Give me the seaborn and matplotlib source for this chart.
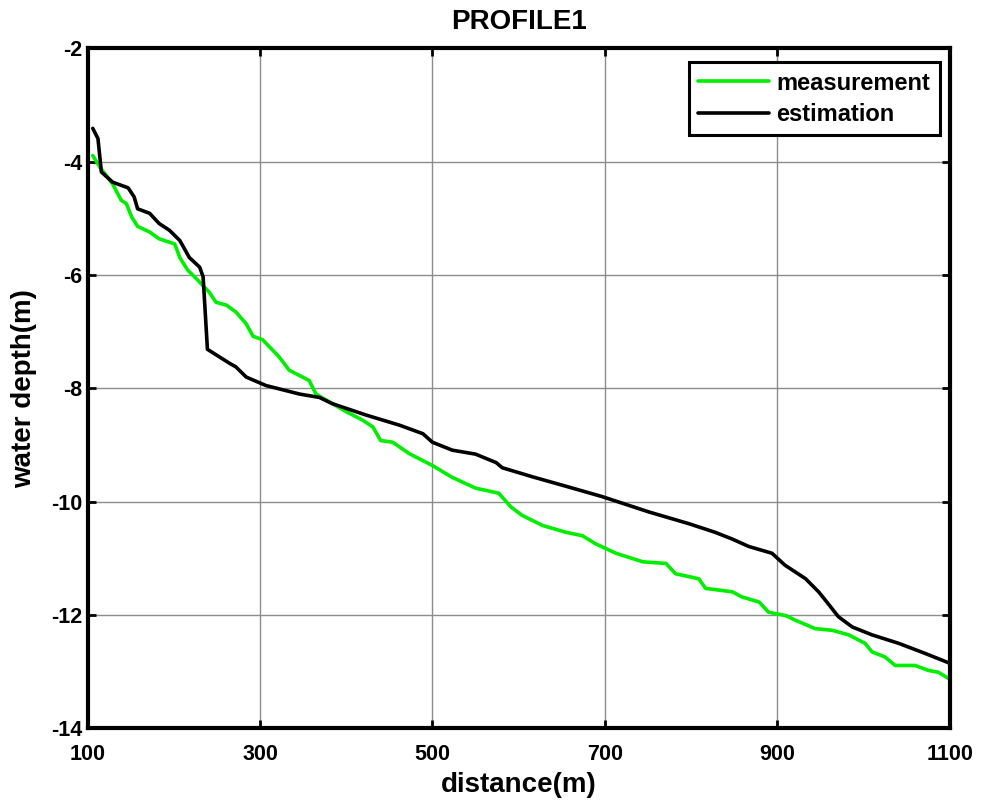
import matplotlib
matplotlib.use("Agg")
import matplotlib.pyplot as plt
import seaborn as sns
import pandas as pd

# measured profile (green)
meas_x = [106, 114, 129, 139, 145, 151, 158, 172, 183, 201, 207, 216, 226, 241, 249, 261,
          272, 284, 292, 303, 322, 334, 357, 365, 384, 400, 419, 431, 440, 454, 473, 500,
          523, 550, 577, 591, 604, 628, 655, 674, 689, 713, 744, 771, 782, 809, 817, 848,
          859, 879, 890, 910, 921, 944, 964, 983, 1002, 1010, 1025, 1037, 1060, 1076, 1087, 1100]
meas_y = [-3.89, -4.09, -4.39, -4.68, -4.74, -4.97, -5.14, -5.24, -5.36, -5.45, -5.69, -5.91,
          -6.06, -6.30, -6.48, -6.53, -6.65, -6.86, -7.08, -7.14, -7.44, -7.68, -7.86, -8.10,
          -8.27, -8.41, -8.56, -8.68, -8.92, -8.95, -9.15, -9.36, -9.57, -9.76, -9.85, -10.09,
          -10.24, -10.42, -10.54, -10.60, -10.74, -10.91, -11.06, -11.09, -11.27, -11.36, -11.53,
          -11.59, -11.68, -11.77, -11.95, -12.01, -12.09, -12.24, -12.27, -12.35, -12.50, -12.65,
          -12.74, -12.89, -12.89, -12.98, -13.01, -13.13]

# estimated profile (black)
est_x = [106, 112, 116, 129, 147, 154, 158, 172, 183, 195, 207, 218, 230, 234, 239, 265,
         272, 284, 307, 346, 369, 384, 423, 462, 489, 500, 523, 550, 574, 581, 616, 651,
         697, 751, 798, 828, 848, 867, 894, 909, 933, 948, 956, 971, 987, 1010, 1041, 1072, 1100]
est_y = [-3.41, -3.59, -4.18, -4.36, -4.46, -4.62, -4.83, -4.91, -5.09, -5.21, -5.39, -5.69,
         -5.86, -6.03, -7.31, -7.56, -7.62, -7.80, -7.95, -8.10, -8.16, -8.27, -8.47, -8.65,
         -8.80, -8.95, -9.09, -9.16, -9.31, -9.40, -9.56, -9.71, -9.91, -10.18, -10.39,
         -10.54, -10.66, -10.79, -10.91, -11.12, -11.36, -11.59, -11.74, -12.03, -12.21,
         -12.35, -12.50, -12.68, -12.85]

x_ticks = [100, 300, 500, 700, 900, 1100]
y_ticks = [-14, -12, -10, -8, -6, -4, -2]

df_meas = pd.DataFrame({"distance": meas_x, "depth": meas_y})
df_est = pd.DataFrame({"distance": est_x, "depth": est_y})

sns.set_style("ticks")
plt.rcParams['font.family'] = ['Liberation Sans', 'DejaVu Sans']
plt.rcParams['font.weight'] = 'bold'
plt.rcParams['axes.unicode_minus'] = False
plt.rcParams['text.color'] = 'black'
plt.rcParams['axes.labelcolor'] = 'black'
plt.rcParams['xtick.color'] = 'black'
plt.rcParams['ytick.color'] = 'black'

fig = plt.figure(figsize=(9.81, 8.01), dpi=100)
ax = fig.add_axes([0.0893, 0.0907, 0.8787, 0.8488])

sns.lineplot(data=df_meas, x="distance", y="depth", color="#00ee00", linewidth=2.6,
             label="measurement", ax=ax, estimator=None, sort=False)
sns.lineplot(data=df_est, x="distance", y="depth", color="black", linewidth=2.6,
             label="estimation", ax=ax, estimator=None, sort=False)

ax.set_xlim(100, 1100)
ax.set_ylim(-14, -2)
ax.set_xticks(x_ticks)
ax.set_yticks(y_ticks)
ax.grid(True, color="#8c8c8c", linewidth=1.0)
ax.tick_params(direction="in", length=6, width=2, top=True, right=True, labelsize=15.5)
ax.tick_params(axis="x", pad=11)
ax.tick_params(axis="y", pad=4)
for lab in ax.get_xticklabels() + ax.get_yticklabels():
    lab.set_fontweight("bold")
for sp in ax.spines.values():
    sp.set_linewidth(3)
    sp.set_color("black")

ax.set_xlabel("distance(m)", fontsize=20, fontweight="bold", labelpad=5)
ax.set_ylabel("water depth(m)", fontsize=20, fontweight="bold", labelpad=10)
ax.set_title("PROFILE1", fontsize=20, fontweight="bold", pad=14)

leg = ax.legend(loc="upper right", bbox_to_anchor=(0.9884, 0.980), fontsize=17,
                frameon=True, fancybox=False, framealpha=1, edgecolor="black",
                handlelength=3.0, handletextpad=0.3, borderaxespad=0,
                borderpad=0.4, labelspacing=0.35)
leg.get_frame().set_linewidth(2.2)
for t in leg.get_texts():
    t.set_fontweight("bold")

fig.savefig("out.png", dpi=100)
